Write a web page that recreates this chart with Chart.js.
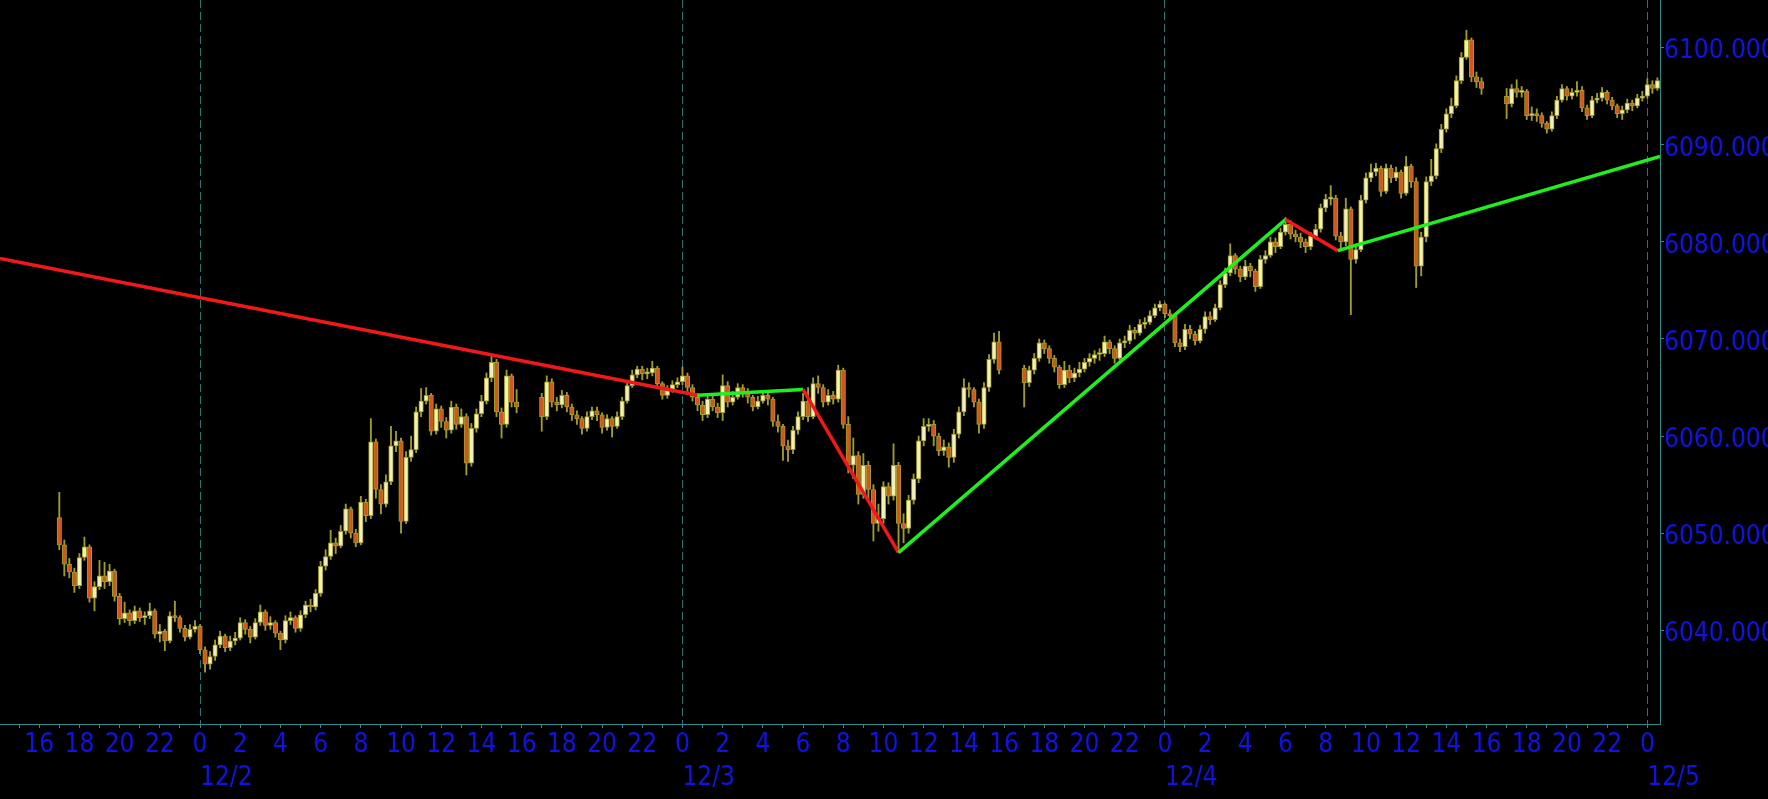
<!DOCTYPE html>
<html>
<head>
<meta charset="utf-8">
<script src="https://cdn.jsdelivr.net/npm/chart.js@4.4.1/dist/chart.umd.min.js"></script>
<style>
  html, body { margin: 0; padding: 0; background: #000; overflow: hidden; }
  canvas { display: block; }
</style>
</head>
<body>
<canvas id="priceChart" width="1768" height="799"></canvas>
<script>
// time is in hours counted from 12/2 00:00, one bar = 15 minutes
const xRange = [-9.95, 72.63];
const yRange = [6030.35, 6104.91];
const yTicks = [6040, 6050, 6060, 6070, 6080, 6090, 6100];
const dayStarts = [0, 24, 48, 72];
const dayLabels = ['12/2', '12/3', '12/4', '12/5'];

const sessionStarts = [-7, 17, 41, 65];
const sessionOpens = [6051.6, 6064.0, 6067.0, 6095.0];

// session 1: 12/1 17:00 - 12/2 16:00
const closes1 = [6048.8, 6046.8, 6046.0, 6044.6, 6047.5, 6048.6, 6043.3, 6044.5, 6045.6, 6045.0, 6046.1, 6043.5,
  6041.2, 6041.8, 6041.0, 6042.0, 6041.3, 6041.5, 6042.0, 6039.6, 6039.9, 6038.9, 6041.5, 6041.3,
  6040.2, 6039.3, 6040.1, 6040.4, 6038.0, 6036.5, 6037.3, 6038.5, 6039.4, 6038.2, 6038.9, 6039.2,
  6040.8, 6040.1, 6039.3, 6040.8, 6041.9, 6040.5, 6040.8, 6039.7, 6039.0, 6041.0, 6041.3, 6040.2,
  6041.6, 6042.6, 6042.4, 6043.8, 6046.6, 6047.6, 6049.0, 6048.7, 6050.2, 6052.5, 6050.0, 6049.0,
  6053.2, 6051.8, 6059.4, 6054.5, 6053.0, 6055.3, 6059.0, 6059.5, 6051.2, 6057.8, 6058.6, 6062.5,
  6063.6, 6064.2, 6060.5, 6062.8, 6061.5, 6060.6, 6063.0, 6061.2, 6062.0, 6057.2, 6060.8, 6062.3,
  6063.6, 6066.0, 6067.6, 6062.5, 6061.2, 6066.2, 6063.5, 6063.0];
const highs1 = [6054.2, 6049.3, 6047.4, 6046.4, 6047.9, 6049.6, 6048.8, 6045.0, 6047.2, 6047.0, 6046.8, 6046.3,
  6043.8, 6042.9, 6042.1, 6042.5, 6042.3, 6041.9, 6042.8, 6042.2, 6040.6, 6040.1, 6041.9, 6043.0,
  6041.5, 6040.5, 6040.6, 6041.0, 6040.6, 6038.3, 6037.8, 6039.0, 6039.9, 6039.6, 6039.4, 6039.8,
  6041.3, 6041.1, 6040.4, 6041.2, 6042.6, 6042.1, 6041.4, 6041.0, 6039.9, 6041.5, 6041.9, 6041.5,
  6042.0, 6043.0, 6043.2, 6044.2, 6047.1, 6048.3, 6050.3, 6049.5, 6050.8, 6053.0, 6052.7, 6050.4,
  6053.8, 6053.5, 6061.8, 6059.7, 6055.0, 6056.0, 6061.0, 6060.5, 6059.8, 6058.4, 6060.0, 6063.0,
  6064.9, 6065.0, 6064.4, 6063.3, 6063.1, 6061.9, 6063.6, 6063.3, 6062.8, 6062.3, 6061.3, 6062.8,
  6064.2, 6066.5, 6068.3, 6067.9, 6062.9, 6066.8, 6066.4, 6064.8];
const lows1 = [6048.3, 6045.6, 6045.4, 6043.9, 6044.3, 6047.2, 6042.9, 6042.0, 6044.2, 6044.3, 6044.6, 6043.0,
  6040.6, 6040.8, 6040.5, 6040.7, 6040.9, 6040.6, 6041.2, 6039.2, 6038.8, 6037.9, 6038.7, 6040.9,
  6039.8, 6038.9, 6039.1, 6039.8, 6037.6, 6035.7, 6036.0, 6036.9, 6038.2, 6037.8, 6037.9, 6038.5,
  6039.0, 6039.6, 6038.7, 6039.1, 6040.5, 6040.0, 6040.1, 6039.3, 6038.0, 6038.7, 6040.6, 6039.8,
  6039.9, 6041.3, 6041.9, 6042.1, 6043.5, 6046.2, 6047.3, 6047.9, 6048.5, 6049.9, 6049.5, 6048.6,
  6048.8, 6051.2, 6051.5, 6053.6, 6052.0, 6052.7, 6055.0, 6058.4, 6050.0, 6051.0, 6057.4, 6058.3,
  6062.0, 6063.3, 6060.1, 6060.2, 6060.9, 6059.8, 6060.3, 6060.7, 6060.9, 6056.0, 6056.9, 6060.4,
  6062.0, 6063.3, 6065.6, 6062.0, 6059.8, 6060.9, 6063.0, 6062.4];

// session 2: 12/2 17:00 - 12/3 16:00
const closes2 = [6062.0, 6065.6, 6063.5, 6063.2, 6064.2, 6063.0, 6062.2, 6061.8, 6060.8, 6062.0, 6062.6, 6062.2,
  6060.9, 6061.8, 6061.0, 6062.0, 6063.6, 6065.2, 6066.3, 6066.9, 6066.4, 6066.5, 6067.0, 6065.4,
  6064.2, 6064.8, 6065.3, 6065.6, 6066.2, 6065.0, 6064.0, 6063.2, 6062.2, 6063.8, 6063.0, 6062.4,
  6065.2, 6063.5, 6064.0, 6065.0, 6064.5, 6064.0, 6063.0, 6063.6, 6064.2, 6063.8, 6061.5, 6061.0,
  6059.0, 6058.6, 6060.6, 6062.0, 6063.6, 6062.0, 6065.4, 6065.0, 6063.5, 6064.2, 6063.8, 6066.8,
  6061.2, 6057.0, 6058.0, 6054.0, 6057.0, 6054.5, 6051.0, 6051.5, 6054.8, 6053.8, 6057.0, 6051.0,
  6050.5, 6053.4, 6055.6, 6059.5, 6061.0, 6061.2, 6060.0, 6058.5, 6058.9, 6057.8, 6060.2, 6062.5,
  6065.0, 6064.8, 6063.5, 6061.2, 6065.0, 6067.9, 6069.7, 6066.8];
const highs2 = [6064.4, 6066.2, 6065.9, 6064.0, 6064.7, 6064.5, 6063.3, 6062.6, 6062.0, 6062.5, 6063.0, 6063.0,
  6062.4, 6062.2, 6062.0, 6062.5, 6064.0, 6065.6, 6066.8, 6067.2, 6067.2, 6067.0, 6067.7, 6067.2,
  6065.6, 6065.2, 6065.7, 6066.0, 6067.1, 6066.5, 6065.3, 6064.4, 6063.6, 6064.3, 6064.1, 6063.4,
  6066.3, 6065.6, 6064.6, 6065.4, 6065.3, 6064.9, 6064.2, 6064.1, 6064.6, 6064.5, 6064.0, 6062.2,
  6061.2, 6059.6, 6061.0, 6062.5, 6064.4, 6065.0, 6066.0, 6066.2, 6065.3, 6064.8, 6064.6, 6067.3,
  6067.0, 6062.0, 6059.8, 6058.4, 6058.2, 6057.4, 6055.0, 6053.0, 6055.3, 6055.2, 6059.2, 6057.3,
  6052.0, 6053.9, 6056.1, 6060.0, 6061.8, 6061.8, 6061.6, 6060.3, 6059.6, 6059.3, 6060.7, 6063.0,
  6065.9, 6065.5, 6065.0, 6063.8, 6065.5, 6068.4, 6070.6, 6070.8];
const lows2 = [6060.5, 6061.7, 6063.0, 6062.6, 6062.9, 6062.5, 6061.6, 6061.2, 6060.2, 6060.5, 6061.7, 6061.6,
  6060.3, 6060.6, 6059.9, 6060.8, 6061.7, 6063.4, 6065.0, 6066.0, 6065.8, 6065.9, 6066.2, 6064.9,
  6063.8, 6063.9, 6064.5, 6065.0, 6065.3, 6064.6, 6063.6, 6062.6, 6061.6, 6061.9, 6062.6, 6061.9,
  6061.6, 6063.0, 6063.2, 6063.8, 6064.0, 6063.4, 6062.6, 6062.8, 6063.4, 6063.2, 6061.0, 6060.4,
  6057.5, 6057.4, 6058.2, 6060.2, 6061.7, 6061.5, 6061.8, 6064.4, 6063.0, 6063.2, 6063.3, 6063.5,
  6060.8, 6056.2, 6055.6, 6053.0, 6053.6, 6053.5, 6049.2, 6050.2, 6051.0, 6053.0, 6053.4, 6048.0,
  6049.0, 6050.0, 6053.0, 6055.2, 6059.0, 6060.5, 6059.0, 6058.0, 6058.0, 6056.8, 6057.3, 6059.8,
  6062.1, 6064.0, 6063.0, 6060.3, 6060.8, 6064.6, 6067.5, 6066.4];

// session 3: 12/3 17:00 - 12/4 16:00
const closes3 = [6065.5, 6066.8, 6068.0, 6069.6, 6069.0, 6068.0, 6067.1, 6065.3, 6066.8, 6066.0, 6066.5, 6066.9,
  6067.6, 6068.0, 6068.4, 6068.5, 6069.7, 6069.0, 6068.0, 6069.6, 6069.8, 6070.9, 6070.6, 6071.5,
  6071.7, 6072.4, 6073.2, 6073.6, 6072.6, 6072.4, 6069.6, 6069.2, 6071.0, 6070.5, 6069.8, 6071.0,
  6072.3, 6072.0, 6073.2, 6075.6, 6076.8, 6078.6, 6077.2, 6076.4, 6077.5, 6077.0, 6075.4, 6078.2,
  6078.6, 6080.0, 6079.5, 6081.0, 6081.8, 6080.8, 6080.5, 6080.0, 6079.5, 6080.6, 6081.3, 6083.5,
  6084.4, 6084.5, 6080.6, 6080.0, 6083.4, 6078.2, 6079.2, 6084.3, 6086.6, 6087.2, 6087.6, 6085.2,
  6087.6, 6086.6, 6087.2, 6085.0, 6087.8, 6086.2, 6077.5, 6080.5, 6086.2, 6086.8, 6089.6, 6091.6,
  6093.2, 6094.0, 6096.6, 6099.0, 6100.8, 6097.0, 6096.5, 6095.8];
const highs3 = [6067.3, 6067.2, 6068.5, 6070.0, 6069.9, 6069.3, 6068.3, 6067.3, 6067.7, 6067.3, 6067.0, 6067.6,
  6068.0, 6068.5, 6068.8, 6069.0, 6070.3, 6069.9, 6069.3, 6070.0, 6070.3, 6071.4, 6071.2, 6072.0,
  6072.2, 6072.9, 6073.6, 6073.9, 6073.7, 6073.0, 6072.6, 6070.0, 6071.5, 6071.4, 6070.8, 6071.4,
  6072.8, 6072.8, 6073.6, 6076.0, 6077.3, 6079.8, 6078.8, 6077.5, 6078.1, 6077.8, 6077.2, 6078.6,
  6079.1, 6080.5, 6080.4, 6081.4, 6082.5, 6082.2, 6081.2, 6080.9, 6080.3, 6081.0, 6081.8, 6083.9,
  6084.9, 6085.8, 6084.8, 6081.0, 6084.5, 6083.6, 6079.8, 6084.8, 6087.1, 6088.0, 6088.1, 6087.8,
  6088.0, 6087.9, 6087.7, 6087.4, 6088.8, 6088.0, 6086.6, 6081.0, 6086.7, 6088.5, 6090.1, 6092.1,
  6093.7, 6094.8, 6097.1, 6099.5, 6101.8, 6101.0, 6097.5, 6096.9];
const lows3 = [6063.0, 6065.1, 6066.4, 6067.7, 6068.5, 6067.5, 6066.6, 6064.9, 6065.0, 6065.5, 6065.6, 6066.1,
  6066.6, 6067.2, 6067.5, 6067.8, 6068.2, 6068.5, 6067.5, 6067.8, 6069.1, 6069.5, 6070.0, 6070.4,
  6071.1, 6071.5, 6072.2, 6072.9, 6072.2, 6071.9, 6069.2, 6068.7, 6068.9, 6070.0, 6069.4, 6069.6,
  6070.6, 6071.5, 6071.8, 6073.0, 6075.3, 6076.5, 6076.7, 6075.9, 6076.1, 6076.4, 6074.9, 6075.2,
  6077.8, 6078.4, 6078.9, 6079.3, 6080.7, 6080.3, 6080.0, 6079.4, 6078.9, 6079.2, 6080.3, 6081.0,
  6083.1, 6083.8, 6080.2, 6079.3, 6079.6, 6072.5, 6077.8, 6079.0, 6084.0, 6086.2, 6086.8, 6084.7,
  6085.0, 6086.1, 6086.3, 6084.5, 6084.8, 6085.6, 6075.3, 6076.5, 6080.0, 6085.8, 6086.5, 6089.2,
  6091.3, 6092.8, 6093.8, 6096.3, 6098.8, 6096.5, 6095.9, 6095.2];

// session 4: 12/4 17:00 - 12/5 00:30
const closes4 = [6094.2, 6095.8, 6095.4, 6095.5, 6093.0, 6093.2, 6093.0, 6092.2, 6091.6, 6093.0, 6094.6, 6095.8,
  6095.0, 6095.4, 6095.6, 6093.8, 6093.0, 6094.6, 6094.8, 6095.4, 6094.6, 6094.0, 6093.2, 6093.6,
  6094.3, 6094.0, 6094.8, 6095.0, 6096.2, 6095.8, 6096.6];
const highs4 = [6095.8, 6096.2, 6096.7, 6096.0, 6095.7, 6093.9, 6093.7, 6093.3, 6092.4, 6093.4, 6095.0, 6096.2,
  6096.0, 6095.8, 6096.5, 6096.0, 6094.1, 6095.0, 6095.3, 6095.9, 6095.6, 6094.9, 6094.2, 6094.0,
  6094.7, 6094.6, 6095.2, 6095.5, 6096.8, 6096.6, 6096.9];
const lows4 = [6092.7, 6093.9, 6094.9, 6094.9, 6092.6, 6092.5, 6092.4, 6091.8, 6091.2, 6091.4, 6092.7, 6094.4,
  6094.6, 6094.7, 6095.0, 6093.4, 6092.6, 6092.8, 6094.3, 6094.5, 6094.2, 6093.6, 6092.8, 6092.6,
  6093.3, 6093.5, 6093.8, 6094.5, 6094.8, 6095.3, 6095.6];

// zigzag swing points
const zigTimes = [-9.95, 24.75, 30.0, 34.75, 54.0, 56.6, 72.63];
const zigValues = [6078.3, 6064.2, 6064.8, 6048.0, 6082.3, 6079.1, 6088.8];
const zigColors = ['#f01818', '#1ef01e', '#f01818', '#1ef01e', '#f01818', '#1ef01e'];

const BLUE = '#1212e4';
const AXIS = '#2f8a8a';
const DASH = '#2a7474';
const OLIVE = '#a09c2c';
const UP_FILL = '#f4f0b4';
const DOWN_FILL = '#d4561c';
const FONT = { family: '"DejaVu Sans Condensed", "DejaVu Sans", sans-serif', size: 26 };

function buildCandles() {
    const sessions = [
        [closes1, highs1, lows1],
        [closes2, highs2, lows2],
        [closes3, highs3, lows3],
        [closes4, highs4, lows4]
    ];
    const bodies = [];
    const wicks = [];
    sessions.forEach(([closes, highs, lows], s) => {
        let open = sessionOpens[s];
        closes.forEach((close, i) => {
            const x = sessionStarts[s] + i * 0.25;
            bodies.push({ x, y: [open, close], up: close >= open });
            wicks.push({ x, y: [lows[i], highs[i]] });
            open = close;
        });
    });
    return { bodies, wicks };
}

function hourLabel(value) {
    const h = ((value % 24) + 24) % 24;
    return h % 2 === 0 ? String(h) : '';
}

// drop the label padding Chart.js reserves, so the plot fills the canvas edges
function noPadding(scale) {
    scale.paddingTop = 0;
    scale.paddingBottom = 0;
    scale.paddingLeft = 0;
    scale.paddingRight = 0;
}

const { bodies, wicks } = buildCandles();
const hourTicks = [];
for (let h = Math.ceil(xRange[0]); h <= Math.floor(xRange[1]); h++) hourTicks.push(h);

new Chart(document.getElementById('priceChart'), {
    type: 'bar',
    data: {
        datasets: [
            {
                type: 'line',
                data: zigTimes.map((x, i) => ({ x, y: zigValues[i] })),
                borderWidth: 3.5,
                pointRadius: 0,
                fill: false,
                tension: 0,
                segment: { borderColor: c => zigColors[c.p0DataIndex] },
                xAxisID: 'x',
                yAxisID: 'y',
                order: 0
            },
            {
                data: bodies,
                grouped: false,
                barThickness: 4.5,
                minBarLength: 2,
                backgroundColor: c => (c.raw && c.raw.up ? UP_FILL : DOWN_FILL),
                borderColor: OLIVE,
                borderWidth: 1,
                borderSkipped: false,
                xAxisID: 'x',
                yAxisID: 'y',
                order: 1
            },
            {
                data: wicks,
                grouped: false,
                barThickness: 1.2,
                backgroundColor: OLIVE,
                borderWidth: 0,
                xAxisID: 'x',
                yAxisID: 'y',
                order: 2
            }
        ]
    },
    options: {
        responsive: false,
        animation: false,
        devicePixelRatio: 1,
        layout: { padding: 0 },
        plugins: {
            legend: { display: false },
            tooltip: { enabled: false }
        },
        scales: {
            x: {
                type: 'linear',
                position: 'bottom',
                weight: 0,
                min: xRange[0],
                max: xRange[1],
                offset: false,
                afterBuildTicks: s => { s.ticks = hourTicks.map(v => ({ value: v })); },
                afterFit: s => { s.height = 36; noPadding(s); },
                ticks: {
                    autoSkip: false,
                    maxRotation: 0,
                    minRotation: 0,
                    padding: 2,
                    color: BLUE,
                    font: FONT,
                    callback: v => hourLabel(v)
                },
                grid: {
                    offset: false,
                    drawOnChartArea: true,
                    color: c => (c.tick && c.tick.value % 24 === 0 ? DASH : 'transparent'),
                    tickColor: AXIS,
                    tickLength: 4
                },
                border: { color: AXIS, width: 1, dash: [8, 4] }
            },
            xDate: {
                type: 'linear',
                position: 'bottom',
                weight: 1,
                min: xRange[0],
                max: xRange[1],
                offset: false,
                afterBuildTicks: s => { s.ticks = dayStarts.map(v => ({ value: v })); },
                afterFit: s => { s.height = 39; noPadding(s); },
                ticks: {
                    autoSkip: false,
                    maxRotation: 0,
                    minRotation: 0,
                    align: 'start',
                    padding: 3,
                    color: BLUE,
                    font: FONT,
                    callback: v => dayLabels[dayStarts.indexOf(v)]
                },
                grid: { display: false, drawTicks: false, offset: false },
                border: { display: false }
            },
            y: {
                type: 'linear',
                position: 'right',
                min: yRange[0],
                max: yRange[1],
                afterBuildTicks: s => { s.ticks = yTicks.map(v => ({ value: v })); },
                afterFit: s => { s.width = 108; noPadding(s); },
                ticks: {
                    padding: 0,
                    labelOffset: 4,
                    color: BLUE,
                    font: FONT,
                    callback: v => Number(v).toFixed(3)
                },
                grid: {
                    drawOnChartArea: false,
                    tickColor: AXIS,
                    tickLength: 4
                },
                border: { color: AXIS, width: 1 }
            }
        }
    }
});
</script>
</body>
</html>
